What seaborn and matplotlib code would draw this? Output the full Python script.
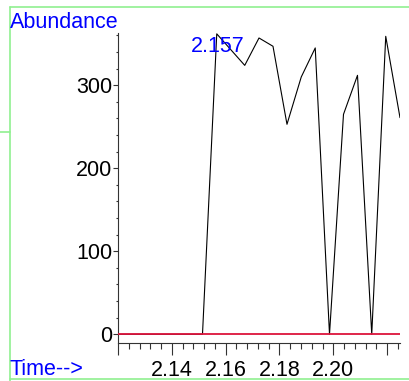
import numpy as np
import pandas as pd
import matplotlib
matplotlib.use("Agg")
import matplotlib.pyplot as plt
from matplotlib.lines import Line2D
from matplotlib.ticker import MultipleLocator
import seaborn as sns

sns.set_theme(style="ticks")
plt.rcParams['font.family'] = ['Liberation Sans', 'DejaVu Sans']

# retention time (min) and abundance
times = [2.1200, 2.1252, 2.1304, 2.1357, 2.1409, 2.1462, 2.1514, 2.1567,
         2.1619, 2.1671, 2.1724, 2.1776, 2.1828, 2.1881, 2.1933, 2.1986,
         2.2038, 2.2090, 2.2143, 2.2195, 2.2248]
abundance = [0, 0, 0, 0, 0, 0, 0, 362,
             343, 324, 357, 347, 253, 310, 345, 0,
             265, 312, 0, 359, 261]
peak_label = "2.157"
x_labels = ["", "2.14", "2.16", "2.18", "2.20", ""]
x_major = [2.12, 2.14, 2.16, 2.18, 2.20, 2.22]
y_major = [0, 100, 200, 300]

df = pd.DataFrame({"time": times, "abundance": abundance})

W, H = 409, 381
fig = plt.figure(figsize=(W / 100, H / 100), dpi=100)
ax = fig.add_axes([118 / W, 1 - 343 / H, (400 - 118) / W, (343 - 33) / H])

ax.axhline(0, color="#dc143c", lw=1.3, zorder=3)
sns.lineplot(data=df, x="time", y="abundance", ax=ax, color="black", lw=0.8,
             zorder=2)

ax.set_xlim(2.12, 2.2248)
ax.set_ylim(-10.5, 363)

ax.set_xticks(x_major)
ax.set_xticklabels(x_labels)
ax.xaxis.set_minor_locator(MultipleLocator(0.004))
ax.set_yticks(y_major)
ax.set_yticklabels([str(v) for v in y_major])
ax.yaxis.set_minor_locator(MultipleLocator(20))

ax.tick_params(axis="x", which="major", length=8.5, width=0.8, pad=4,
               labelsize=15.5, color="#333333", labelcolor="black")
ax.tick_params(axis="x", which="minor", length=4, width=0.8, color="#333333")
ax.tick_params(axis="y", which="major", length=3.8, width=0.8, pad=0.5,
               labelsize=15.5, color="#333333", labelcolor="black")
ax.tick_params(axis="y", which="minor", length=1.8, width=0.8,
               color="#333333")

sns.despine(ax=ax)
for s in ("left", "bottom"):
    ax.spines[s].set_color("#333333")
    ax.spines[s].set_linewidth(0.8)
ax.set_xlabel("")
ax.set_ylabel("")
ax.set_facecolor("white")

pk = int(np.argmax(abundance))
ax.annotate(peak_label, xy=(times[pk], abundance[pk]), xytext=(1, -1.5),
            textcoords="offset points", ha="center", va="top",
            color="#0000ff", fontsize=15.5, zorder=4)

fig.text(10 / W, 1 - 28 / H, "Abundance", color="#0000ff", fontsize=15.5,
         ha="left", va="baseline")
fig.text(10 / W, 1 - 375 / H, "Time-->", color="#0000ff", fontsize=15.5,
         ha="left", va="baseline")

green = "#90f090"
fig.add_artist(Line2D([10 / W, 1], [1 - 7 / H, 1 - 7 / H], color=green, lw=1.2))
fig.add_artist(Line2D([10 / W, 1], [1 - 379 / H, 1 - 379 / H], color=green, lw=1.2))
fig.add_artist(Line2D([10 / W, 10 / W], [0, 1 - 7 / H], color=green, lw=1.2))
fig.add_artist(Line2D([0, 10 / W], [1 - 132 / H, 1 - 132 / H], color=green, lw=1.2))

fig.savefig("out.png", dpi=100)
